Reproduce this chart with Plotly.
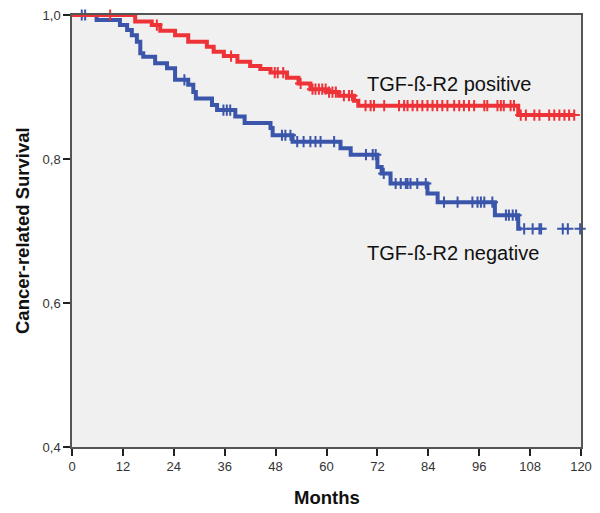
import plotly.graph_objects as go
import numpy as np

# ---- data (months, survival) ----
pos_times = [0, 14.9, 18.8, 20.8, 24.3, 27.4, 31.8, 33.4, 35.8, 39.0, 42.0, 44.4, 46.8, 50.7,
             53.4, 56.2, 60.0, 62.9, 66.5, 67.5, 105.2]
pos_surv = [1.0, 0.991, 0.986, 0.978, 0.972, 0.963, 0.956, 0.949, 0.943, 0.935, 0.929, 0.925,
            0.920, 0.913, 0.905, 0.897, 0.893, 0.888, 0.881, 0.874, 0.861]
pos_end = 118.6
pos_censor = [9.0, 20.0, 37.5, 47.8, 48.5, 49.8, 53.9, 56.7, 57.4, 58.2, 59.0, 59.8, 60.6, 61.4,
              62.2, 64.1, 65.3, 66.0, 69.2, 70.4, 71.2, 73.6, 77.1, 78.3, 79.1, 80.3, 81.4, 82.6,
              83.8, 85.0, 86.1, 87.3, 88.5, 90.1, 91.3, 92.4, 93.6, 94.8, 97.2, 97.9, 100.3,
              101.1, 101.8, 103.4, 104.2, 105.8, 107.0, 109.0, 110.2, 112.5, 113.7, 114.9,
              116.1, 117.2, 118.4]

neg_times = [0, 5.8, 11.3, 13.0, 14.1, 15.3, 16.1, 16.8, 19.6, 22.4, 24.3, 27.4, 28.6, 29.2,
             33.0, 34.2, 38.5, 40.7, 46.8, 47.3, 52.0, 63.3, 65.7, 72.0, 73.0, 75.1, 83.8,
             86.2, 99.7, 105.2]
neg_surv = [1.0, 0.993, 0.986, 0.979, 0.972, 0.963, 0.947, 0.942, 0.933, 0.926, 0.910, 0.903,
            0.893, 0.884, 0.875, 0.868, 0.859, 0.850, 0.843, 0.833, 0.824, 0.815, 0.806, 0.789,
            0.780, 0.766, 0.752, 0.740, 0.722, 0.703]
neg_end = 106.0
neg_censor = [2.3, 3.1, 26.5, 35.7, 36.5, 37.3, 49.5, 50.3, 51.5, 53.1, 54.6, 56.2, 57.4, 58.6,
              61.8, 69.3, 70.9, 71.6, 73.5, 76.3, 77.5, 78.7, 79.1, 79.8, 81.4, 83.4, 87.7,
              90.9, 94.4, 95.6, 96.4, 97.2, 99.1, 102.3, 103.0, 103.9, 104.7, 106.6, 108.6,
              110.2, 110.6, 115.7, 116.9, 119.8]

x_ticks = [0, 12, 24, 36, 48, 60, 72, 84, 96, 108, 120]
y_ticks = [0.4, 0.6, 0.8, 1.0]
y_ticktext = ["0,4", "0,6", "0,8", "1,0"]

RED = "#EE3338"
BLUE = "#3A55AA"
FONT = "Arial, Liberation Sans, sans-serif"


def step_value(times, surv, t):
    idx = np.searchsorted(np.array(times), t, side="right") - 1
    return surv[max(idx, 0)]


fig = go.Figure()

for times, surv, end, cens, col in [
    (neg_times, neg_surv, neg_end, neg_censor, BLUE),
    (pos_times, pos_surv, pos_end, pos_censor, RED),
]:
    fig.add_trace(go.Scatter(
        x=list(times) + [end], y=list(surv) + [surv[-1]],
        mode="lines", line=dict(color=col, width=4, shape="hv"),
        showlegend=False, hoverinfo="skip", cliponaxis=False))
    fig.add_trace(go.Scatter(
        x=cens, y=[step_value(times, surv, c) for c in cens],
        mode="markers",
        marker=dict(symbol="cross-thin", size=8, line=dict(color=col, width=2)),
        showlegend=False, hoverinfo="skip", cliponaxis=False))

fig.add_annotation(x=69, y=0.904, xref="x", yref="y", text="TGF-ß-R2 positive",
                   showarrow=False, xanchor="left", yanchor="middle",
                   font=dict(family=FONT, size=20, color="#111"))
fig.add_annotation(x=69, y=0.670, xref="x", yref="y", text="TGF-ß-R2 negative",
                   showarrow=False, xanchor="left", yanchor="middle",
                   font=dict(family=FONT, size=20, color="#111"))

# axis titles
fig.add_annotation(x=-50 / 509, y=0.5, xref="paper", yref="paper",
                   text="<b>Cancer-related Survival</b>", textangle=-90, showarrow=False,
                   xanchor="center", yanchor="middle",
                   font=dict(family=FONT, size=18.5, color="#111"))
fig.add_annotation(x=0.5, y=-50 / 432, xref="paper", yref="paper",
                   text="<b>Months</b>", showarrow=False,
                   xanchor="center", yanchor="middle",
                   font=dict(family=FONT, size=18.5, color="#111"))

axis_common = dict(showgrid=False, zeroline=False, showline=True, linecolor="#555555",
                   linewidth=1.5, mirror=True, ticks="outside", ticklen=7,
                   tickcolor="#222", tickwidth=2, automargin=False,
                   ticklabeloverflow="allow",
                   tickfont=dict(family=FONT, size=13, color="#333"))

fig.update_xaxes(range=[0, 120], tickvals=x_ticks, **axis_common)
fig.update_yaxes(range=[0.4, 1.0], tickvals=y_ticks, ticktext=y_ticktext, **axis_common)

# page body has an 8px margin, so the figure is shrunk / shifted to compensate
fig.update_layout(width=592, height=505, margin=dict(l=64, r=19, t=7, b=66, autoexpand=False),
                  plot_bgcolor="#F0F0F0", paper_bgcolor="white")

fig.write_html("out.html")
